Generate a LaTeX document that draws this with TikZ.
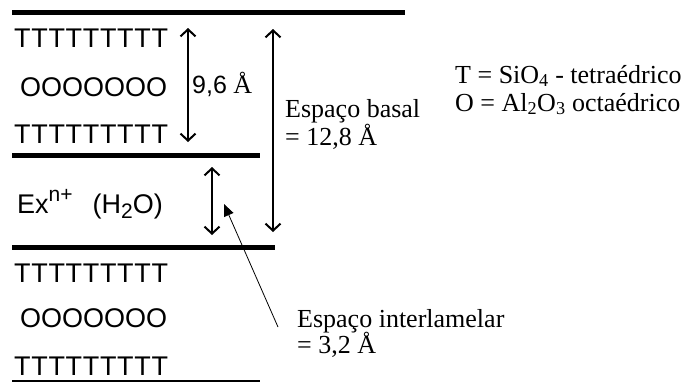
\documentclass[tikz,border=0pt]{standalone}
\usepackage{fontspec}
\setmainfont{Liberation Serif}
\setsansfont{Liberation Sans}
\usetikzlibrary{arrows.meta, positioning}

\newcommand{\supx}[1]{\raisebox{0.42em}{\fontsize{21}{21}\selectfont #1}}
\newcommand{\subx}[1]{\raisebox{-0.22em}{\fontsize{21}{21}\selectfont #1}}

\begin{document}
\begin{tikzpicture}[x=1pt, y=-1pt,
  layer/.style={font=\sffamily\fontsize{27}{27}\selectfont, inner sep=0pt, anchor=base west},
  tlayer/.style={layer, font=\sffamily\fontsize{27}{27}\selectfont\addfontfeature{LetterSpace=2.5}},
  lbl/.style={font=\fontsize{26}{28}\selectfont, inner sep=0pt, anchor=base west},
  sheet/.style={line width=5pt},
  dim/.style={line width=2pt, {Straight Barb[length=7pt,width=15pt]}-{Straight Barb[length=7pt,width=15pt]}}]
  \useasboundingbox (0,0) rectangle (695,383);
  % Lamelas
  \draw[sheet] (12,12) -- (405,12);
  \draw[sheet] (12,155) -- (260,155);
  \draw[sheet] (12,247) -- (275,247);
  \draw[line width=2pt] (12,381) -- (260,381);
  % Camadas T-O-T
  \node[tlayer] (t1) at (14,47) {TTTTTTTTT};
  \node[layer] (o1) at (20,96) {OOOOOOO};
  \node[tlayer] (t2) at (14,143) {TTTTTTTTT};
  \node[layer] (ex) at (17,213) {Ex\supx{n+}\hspace{20pt}(H\subx{2}O)};
  \node[tlayer] (t3) at (14,282) {TTTTTTTTT};
  \node[layer] (o2) at (20,327) {OOOOOOO};
  \node[tlayer] (t4) at (14,375) {TTTTTTTTT};
  % Cotas
  \coordinate (lamTop) at (188,28);
  \coordinate (lamBot) at (188,142);
  \coordinate (basTop) at (273,29);
  \coordinate (basBot) at (273,232);
  \coordinate (intTop) at (212,167);
  \coordinate (intBot) at (212,235);
  \draw[dim] (lamTop) -- (lamBot);
  \draw[dim] (basTop) -- (basBot);
  \draw[dim] (intTop) -- (intBot);
  \node[lbl] (lam) at (192,93) {{\sffamily\fontsize{25}{25}\selectfont 9,6} Å};
  \node[lbl] (bas1) at (285,117) {Espaço basal};
  \node[lbl] (bas2) at (285,145) {= 12,8 Å};
  \node[lbl] (int1) at (297,327) {Espaço interlamelar};
  \node[lbl] (int2) at (297,353) {= 3,2 Å};
  \coordinate (ptrEnd) at (278,327);
  \coordinate (ptrTip) at (224,204);
  \draw[line width=0.8pt, -{Triangle[length=12pt,width=10pt]}] (ptrEnd) -- (ptrTip);
  % Legenda
  \node[lbl] (legT) at (455,83) {T = SiO\textsubscript{4} - tetraédrico};
  \node[lbl] (legO) at (455,111) {O = Al\textsubscript{2}O\textsubscript{3} octaédrico};
\end{tikzpicture}
\end{document}
